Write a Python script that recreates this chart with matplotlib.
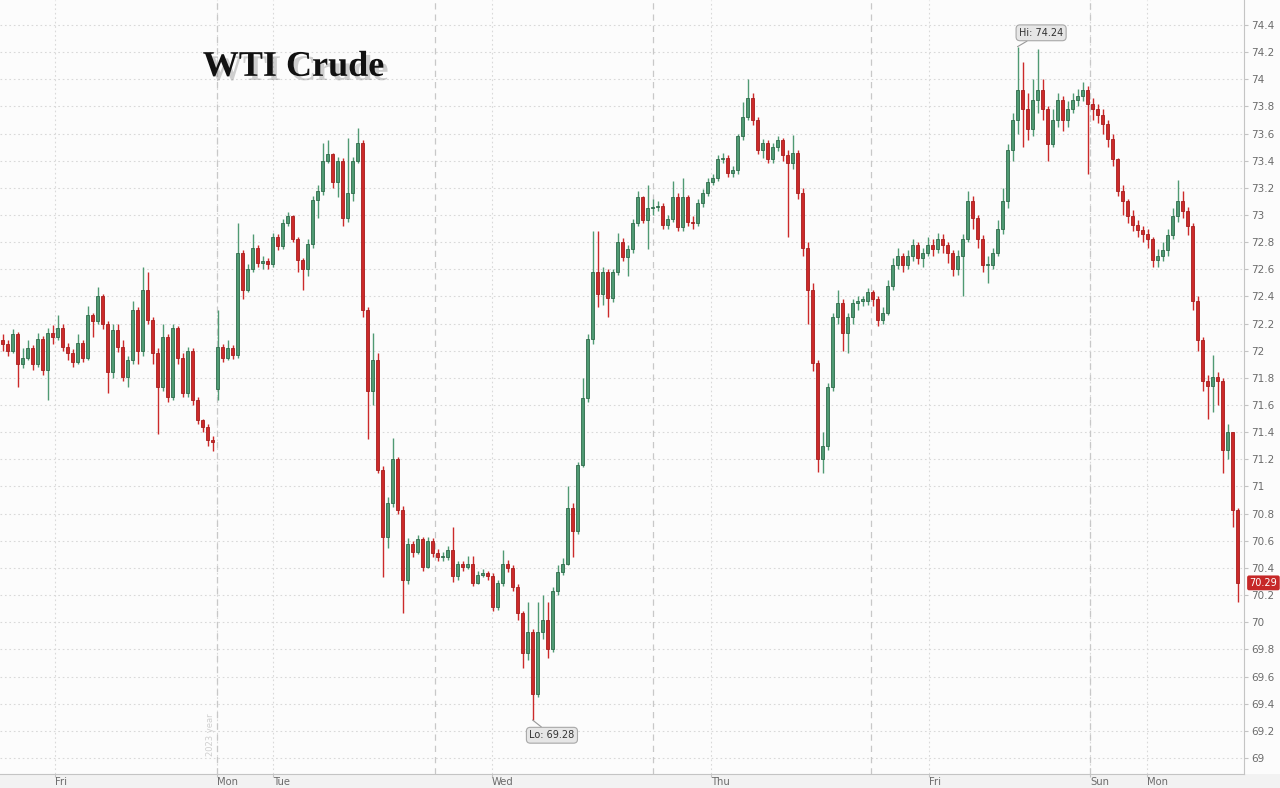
import numpy as np
import matplotlib
matplotlib.use("Agg")
import matplotlib.pyplot as plt
import matplotlib.patheffects as pe

# WTI crude, intraday candles (one candle per slot, oldest first)
closes = [
    72.05, 72.00, 72.12, 71.90, 71.95, 72.02, 71.90, 72.09, 71.86, 72.13,
    72.10, 72.17, 72.03, 71.98, 71.92, 72.06, 71.95, 72.26, 72.22, 72.40,
    72.20, 71.84, 72.15, 72.03, 71.81, 71.93, 72.30, 72.00, 72.45, 72.23,
    71.98, 71.73, 72.10, 71.66, 72.17, 71.95, 71.69, 72.00, 71.64, 71.49,
    71.44, 71.34, 71.33,
    72.03, 71.95, 72.02, 71.97, 72.72, 72.45, 72.60, 72.76, 72.65, 72.66,
    72.64, 72.84, 72.77, 72.94, 72.99, 72.82, 72.67, 72.60, 72.79, 73.11,
    73.18, 73.40, 73.45, 73.24, 73.40, 72.98, 73.16, 73.40, 73.53, 72.30,
    71.70, 71.93, 71.12, 70.63, 70.88, 71.20, 70.83, 70.31, 70.58, 70.52,
    70.61, 70.41, 70.60, 70.51,
    70.48, 70.48, 70.53, 70.34, 70.43, 70.41, 70.43, 70.29, 70.35, 70.36,
    70.34, 70.11, 70.29, 70.43, 70.40, 70.26, 70.07, 69.77, 69.93, 69.47,
    69.93, 70.02, 69.80, 70.23, 70.37, 70.43, 70.84, 70.67, 71.16, 71.65,
    72.09, 72.58, 72.42, 72.58, 72.39, 72.58, 72.80, 72.69, 72.75, 72.94,
    73.13, 72.96, 73.05,
    73.06, 73.07, 72.93, 72.97, 73.13, 72.91, 73.13, 72.95, 72.94, 73.09,
    73.16, 73.24, 73.27, 73.41, 73.42, 73.31, 73.33, 73.58, 73.72, 73.86,
    73.70, 73.48, 73.53, 73.41, 73.50, 73.55, 73.44, 73.38, 73.46, 73.16,
    72.76, 72.45, 71.91, 71.20, 71.30, 71.73, 72.25, 72.35, 72.13, 72.25,
    72.35, 72.37, 72.37, 72.43,
    72.38, 72.23, 72.28, 72.48, 72.63, 72.70, 72.63, 72.70, 72.78, 72.68,
    72.72, 72.78, 72.75, 72.82, 72.78, 72.72, 72.60, 72.70, 72.82, 73.10,
    72.98, 72.82, 72.63, 72.63, 72.72, 72.90, 73.10, 73.48, 73.70, 73.92,
    73.78, 73.63, 73.85, 73.92, 73.78, 73.52, 73.70, 73.85, 73.70, 73.78,
    73.85, 73.88, 73.92, 73.82, 73.78, 73.74, 73.67, 73.56, 73.41, 73.18,
    73.10, 72.99, 72.93, 72.89, 72.86, 72.82, 72.67, 72.70, 72.74, 72.85,
    72.99, 73.10, 73.03, 72.92, 72.37, 72.08, 71.78, 71.74, 71.81, 71.78,
    71.27, 71.40, 70.83, 70.29,
]
highs = [
    72.12, 72.08, 72.16, 72.14, 72.02, 72.08, 72.04, 72.13, 72.11, 72.17,
    72.19, 72.26, 72.20, 72.06, 72.01, 72.12, 72.08, 72.33, 72.28, 72.47,
    72.42, 72.22, 72.20, 72.20, 72.08, 71.96, 72.37, 72.32, 72.62, 72.58,
    72.25, 72.02, 72.20, 72.12, 72.20, 72.18, 71.98, 72.03, 72.02, 71.66,
    71.50, 71.46, 71.37,
    72.30, 72.05, 72.08, 72.04, 72.94, 72.74, 72.64, 72.86, 72.78, 72.70,
    72.68, 72.87, 72.86, 72.97, 73.02, 73.00, 72.84, 72.68, 72.82, 73.14,
    73.22, 73.53, 73.55, 73.46, 73.43, 73.42, 73.57, 73.43, 73.64, 73.55,
    72.32, 72.13, 71.98, 71.15, 70.92, 71.36, 71.22, 70.86, 70.62, 70.60,
    70.64, 70.63, 70.63, 70.62,
    70.54, 70.52, 70.56, 70.70, 70.45, 70.45, 70.49, 70.49, 70.38, 70.39,
    70.38, 70.36, 70.31, 70.53, 70.46, 70.42, 70.28, 70.08, 70.15, 69.95,
    70.15, 70.20, 70.15, 70.26, 70.42, 70.47, 71.00, 70.88, 71.18, 71.80,
    72.12, 72.88, 72.88, 72.62, 72.60, 72.60, 72.87, 72.83, 72.78, 72.97,
    73.18, 73.14, 73.22,
    73.12, 73.10, 73.09, 73.00, 73.25, 73.16, 73.27, 73.15, 72.99, 73.12,
    73.19, 73.27, 73.30, 73.44, 73.46, 73.44, 73.36, 73.60, 73.83, 74.00,
    73.90, 73.72, 73.56, 73.55, 73.53, 73.58, 73.57, 73.48, 73.59, 73.48,
    73.20, 72.80, 72.50, 71.93, 71.40, 71.76, 72.28, 72.45, 72.38, 72.28,
    72.38, 72.40, 72.40, 72.46,
    72.45, 72.40, 72.32, 72.52, 72.68, 72.76, 72.72, 72.74, 72.82, 72.80,
    72.76, 72.84, 72.82, 72.87, 72.86, 72.80, 72.74, 72.74, 72.86, 73.18,
    73.14, 73.00, 72.85, 72.70, 72.76, 72.96, 73.20, 73.52, 73.75, 74.24,
    74.13, 73.90, 74.00, 74.22, 74.00, 73.80, 73.78, 73.90, 73.88, 73.84,
    73.90, 73.93, 73.98, 73.95, 73.86, 73.82, 73.78, 73.70, 73.60, 73.42,
    73.22, 73.12, 73.04, 72.96, 72.92, 72.90, 72.84, 72.75, 72.80, 72.90,
    73.05, 73.26, 73.18, 73.06, 72.94, 72.40, 72.10, 71.82, 71.97, 71.84,
    71.80, 71.46, 71.40, 70.84,
]
lows = [
    72.00, 71.96, 71.98, 71.73, 71.87, 71.93, 71.86, 71.88, 71.82, 71.64,
    72.05, 72.08, 72.00, 71.93, 71.88, 71.90, 71.92, 71.93, 72.10, 72.20,
    72.16, 71.69, 71.80, 71.99, 71.78, 71.73, 71.90, 71.90, 71.96, 72.20,
    71.90, 71.39, 71.70, 71.62, 71.64, 71.90, 71.66, 71.66, 71.60, 71.46,
    71.40, 71.30, 71.26,
    71.64, 71.92, 71.93, 71.94, 71.95, 72.38, 72.43, 72.58, 72.62, 72.60,
    72.60, 72.62, 72.74, 72.75, 72.92, 72.80, 72.58, 72.45, 72.55, 72.76,
    72.98, 73.15, 73.38, 73.20, 73.13, 72.92, 72.95, 73.10, 73.38, 72.25,
    71.35, 71.60, 71.10, 70.33, 70.55, 70.85, 70.80, 70.07, 70.28, 70.48,
    70.50, 70.38, 70.40, 70.48,
    70.45, 70.45, 70.46, 70.30, 70.31, 70.38, 70.39, 70.27, 70.28, 70.33,
    70.31, 70.08, 70.09, 70.27, 70.37, 70.23, 70.02, 69.66, 69.72, 69.28,
    69.45, 69.88, 69.74, 69.78, 70.20, 70.35, 70.42, 70.48, 70.65, 71.14,
    71.62, 72.05, 72.32, 72.34, 72.25, 72.36, 72.56, 72.66, 72.55, 72.72,
    72.92, 72.94, 72.75,
    73.00, 73.03, 72.90, 72.90, 72.95, 72.88, 72.88, 72.92, 72.90, 72.92,
    73.06, 73.14, 73.22, 73.25, 73.38, 73.28, 73.28, 73.30, 73.55, 73.70,
    73.66, 73.45, 73.42, 73.38, 73.38, 73.47, 73.40, 72.84, 73.34, 73.12,
    72.70, 72.20, 71.85, 71.11, 71.10, 71.27, 71.70, 72.20, 72.00, 71.98,
    72.20, 72.30, 72.33, 72.34,
    72.33, 72.18, 72.20, 72.26, 72.45, 72.60, 72.58, 72.60, 72.66, 72.64,
    72.62, 72.70, 72.70, 72.72, 72.72, 72.65, 72.55, 72.56, 72.40, 72.80,
    72.90, 72.76, 72.58, 72.50, 72.60, 72.70, 72.86, 73.05, 73.40, 73.60,
    73.50, 73.55, 73.58, 73.75, 73.70, 73.40, 73.50, 73.65, 73.62, 73.65,
    73.75, 73.80, 73.84, 73.30, 73.70, 73.68, 73.60, 73.50, 73.36, 73.14,
    73.00, 72.94, 72.88, 72.84, 72.80, 72.76, 72.62, 72.62, 72.66, 72.70,
    72.82, 72.95, 72.98, 72.85, 72.30, 72.00, 71.70, 71.50, 71.55, 71.60,
    71.10, 71.20, 70.70, 70.15,
]
first_open = 72.08
session_opens = {43: 71.72}  # Monday re-open gap

# x axis: candle slot positions of day labels and session breaks
day_labels = ["Fri", "Mon", "Tue", "Wed", "Thu", "Fri", "Sun", "Mon"]
day_ticks = [10.5, 42.9, 54.1, 97.9, 141.7, 185.3, 217.5, 228.9]
session_breaks = [42.9, 86.5, 130.1, 173.7, 217.5]
y_ticks = np.round(np.arange(69.0, 74.41, 0.2), 1)

GREEN = "#4f9a73"
GREEN_EDGE = "#2f6b4b"
RED = "#cc2a2a"
RED_EDGE = "#a51e1e"
GRID = "#d9d9d9"
TXT = "#6b6b6b"

closes = np.array(closes)
opens = np.concatenate([[first_open], closes[:-1]])
for k, v in session_opens.items():
    opens[k] = v
highs = np.maximum(np.array(highs), np.maximum(opens, closes))
lows = np.minimum(np.array(lows), np.minimum(opens, closes))
idx = np.arange(len(closes))
up = closes >= opens

fig = plt.figure(figsize=(12.8, 7.88), dpi=100, facecolor="#fcfcfc")
# grey band under the time axis (drawn beneath the axes)
fig.patches.append(plt.Rectangle((0, 0), 1, 14 / 788, transform=fig.transFigure,
                                 facecolor="#f2f2f2", edgecolor="none", zorder=-5))
ax = fig.add_axes([0, 14 / 788, 1244 / 1280, 774 / 788])
ax.set_facecolor("#fcfcfc")

# grid
for y in y_ticks:
    ax.axhline(y, color=GRID, lw=0.8, ls=(0, (1.5, 2.5)), zorder=0)
for x in day_ticks:
    ax.axvline(x, color=GRID, lw=0.8, ls=(0, (1.5, 2.5)), zorder=0)
for x in session_breaks:
    ax.axvline(x, color="#c8c8c8", lw=0.9, ls=(0, (5, 4)), zorder=0)

# candles
for mask, face, edge in [(up, GREEN, GREEN_EDGE), (~up, RED, RED_EDGE)]:
    ax.vlines(idx[mask], lows[mask], highs[mask], color=face, lw=1.0, zorder=2)
    body_lo = np.minimum(opens, closes)[mask]
    body_h = np.maximum(np.abs(closes - opens)[mask], 0.008)
    ax.bar(idx[mask], body_h, bottom=body_lo, width=0.72, color=face,
           edgecolor=edge, linewidth=0.6, zorder=3)

ax.set_xlim(-0.5, 248.3)
ax.set_ylim(68.882, 74.584)

# axes styling
for s in ["top", "left"]:
    ax.spines[s].set_visible(False)
ax.spines["right"].set_color("#c4c4c4")
ax.spines["bottom"].set_color("#c4c4c4")
ax.yaxis.tick_right()
ax.set_yticks(y_ticks)
ax.set_yticklabels([f"{v:g}" for v in y_ticks])
ax.tick_params(axis="y", colors="#c4c4c4", labelcolor=TXT, labelsize=7.5,
               length=3, pad=2)
ax.set_xticks(day_ticks)
ax.set_xticklabels(day_labels)
ax.tick_params(axis="x", colors="#c4c4c4", labelcolor=TXT, labelsize=7.2,
               length=2, pad=0.5)
for lbl in ax.get_xticklabels():
    lbl.set_horizontalalignment("left")

# title with drop shadow
ax.text(0.236, 0.913, "WTI Crude", transform=ax.transAxes, ha="center", va="center",
        fontsize=26, fontweight="bold", family="Liberation Serif", color="#111111",
        path_effects=[pe.withSimplePatchShadow(offset=(3, -3), shadow_rgbFace="#666666",
                                               alpha=0.3)], zorder=5)

ax.text(41.6, 69.17, "2023 year", rotation=90, fontsize=6, color="#cfcfcf",
        ha="center", va="center", zorder=1)

# high / low markers
box = dict(boxstyle="round,pad=0.3,rounding_size=0.4", fc="#e6e6e6", ec="#a8a8a8", lw=0.8)
hi_i = int(np.argmax(highs))
lo_i = int(np.argmin(lows))
ax.annotate(f"Hi: {highs[hi_i]:.2f}", xy=(hi_i, highs[hi_i]), xytext=(17, 10),
            textcoords="offset points", ha="center", va="center", fontsize=7,
            color="#333333", bbox=box,
            arrowprops=dict(arrowstyle="-", color="#999999", lw=0.8, shrinkA=0, shrinkB=0),
            zorder=6)
ax.annotate(f"Lo: {lows[lo_i]:.2f}", xy=(lo_i, lows[lo_i]), xytext=(14, -11),
            textcoords="offset points", ha="center", va="center", fontsize=7,
            color="#333333", bbox=box,
            arrowprops=dict(arrowstyle="-", color="#999999", lw=0.8, shrinkA=0, shrinkB=0),
            zorder=6)

# last price tag
ax.annotate(f"{closes[-1]:.2f}", xy=(1, closes[-1]), xycoords=("axes fraction", "data"),
            xytext=(4, 0), textcoords="offset points", ha="left", va="center",
            fontsize=7, color="white", annotation_clip=False,
            bbox=dict(boxstyle="round,pad=0.25,rounding_size=0.2", fc="#c62828", ec="none"))

fig.savefig("out.png", dpi=100, facecolor=fig.get_facecolor())
